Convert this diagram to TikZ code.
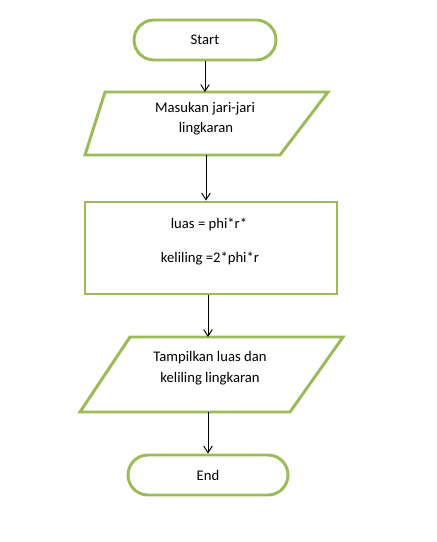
\documentclass[tikz,border=0pt]{standalone}
\usepackage{fontspec}
\setmainfont{Carlito}
\usetikzlibrary{arrows.meta}
\definecolor{flowgreen}{RGB}{155,187,89}

\begin{document}
\begin{tikzpicture}[x=0.75pt,y=-0.75pt,
		flowline/.style={draw=flowgreen,line width=2.2pt},
		terminal/.style={flowline,rounded corners=15pt,minimum height=30pt,inner sep=0pt,font=\fontsize{11}{13}\selectfont},
		process/.style={flowline,inner sep=0pt},
		txt/.style={anchor=base,inner sep=0pt,font=\fontsize{11}{13}\selectfont},
		flowarrow/.style={-{Straight Barb[length=5pt,width=6.5pt]},line width=0.7pt}]
				\useasboundingbox (0,0) rectangle (436,542);
				% terminal awal
				\node[terminal,minimum width=106.5pt] (start) at (205,40) {Start};
				% input
				\coordinate (inA) at (85,155);
				\coordinate (inB) at (280,155);
				\coordinate (inC) at (328,92);
				\coordinate (inD) at (105,92);
				\coordinate (inTop) at (205,92);
				\coordinate (inBot) at (206,155);
				\draw[flowline] (inA)--(inB)--(inC)--(inD)--cycle;
				\node[txt] (in1) at (205,112) {Masukan jari-jari};
				\node[txt] (in2) at (206,132) {lingkaran};
				% proses
				\node[process,minimum width=189pt,minimum height=69pt] (proc) at (211,248) {};
				\node[txt] (luas) at (209,228) {luas = phi*r*};
				\node[txt] (kel) at (210,262) {keliling =2*phi*r};
				% output
				\coordinate (outA) at (80,412);
				\coordinate (outB) at (290,412);
				\coordinate (outC) at (343,337);
				\coordinate (outD) at (130,337);
				\coordinate (outTop) at (208,337);
				\coordinate (outBot) at (208,412);
				\draw[flowline] (outA)--(outB)--(outC)--(outD)--cycle;
				\node[txt] (out1) at (210,361) {Tampilkan luas dan};
				\node[txt] (out2) at (210,382) {keliling lingkaran};
				% terminal akhir
				\node[terminal,minimum width=120pt] (end) at (208,475) {End};
				% panah
				\draw[flowarrow] (start.south) -- (inTop);
				\draw[flowarrow] (inBot) -- (inBot |- proc.north);
				\draw[flowarrow] (proc.south -| outTop) -- (outTop);
				\draw[flowarrow] (outBot) -- (end.north -| outBot);
			\end{tikzpicture}
\end{document}
